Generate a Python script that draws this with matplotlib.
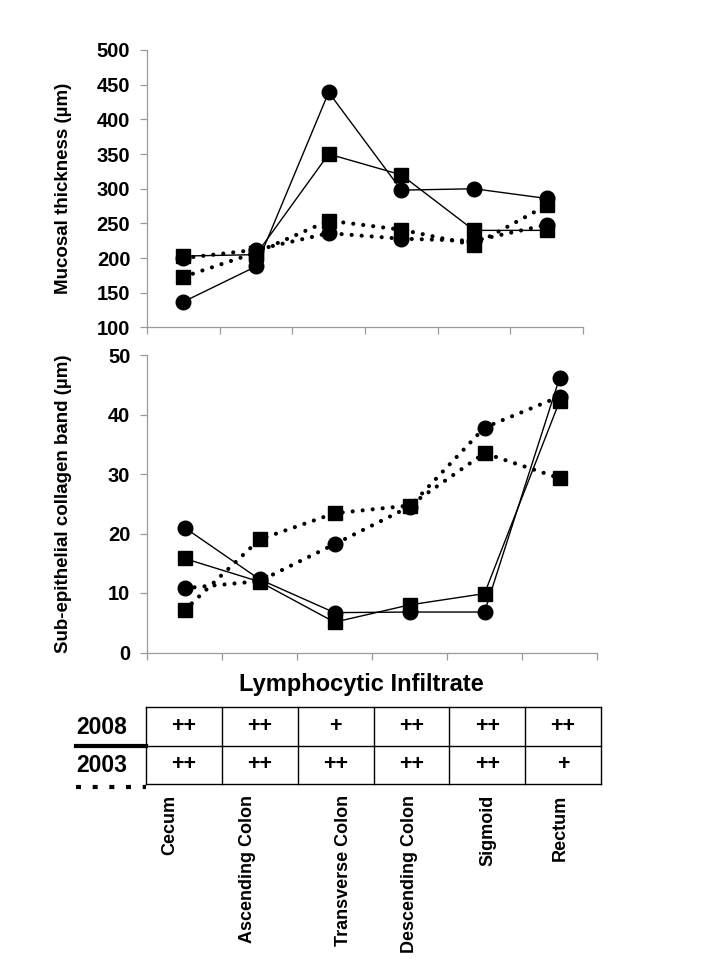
import matplotlib
matplotlib.use("Agg")
import matplotlib.pyplot as plt
from matplotlib.lines import Line2D

plt.rcParams['font.family'] = ['Liberation Sans', 'DejaVu Sans']
plt.rcParams['font.weight'] = 'bold'

# data
segments = ['Cecum', 'Ascending Colon', 'Transverse Colon', 'Descending Colon', 'Sigmoid', 'Rectum']

mucosal_2008_circle = [137, 188, 439, 298, 300, 286]
mucosal_2008_square = [203, 205, 350, 320, 240, 240]
mucosal_2003_circle = [200, 212, 236, 228, 225, 248]
mucosal_2003_square = [173, 208, 254, 241, 219, 276]

collagen_2008_circle = [21.0, 12.3, 6.7, 6.8, 6.8, 46.1]
collagen_2008_square = [15.8, 11.9, 5.1, 8.0, 9.9, 42.2]
collagen_2003_circle = [10.8, 12.0, 18.2, 24.5, 37.8, 43.0]
collagen_2003_square = [7.1, 19.0, 23.4, 24.7, 33.5, 29.3]

infiltrate_2008 = ['++', '++', '+', '++', '++', '++']
infiltrate_2003 = ['++', '++', '++', '++', '++', '+']
years = ['2008', '2003']

W, H = 720, 960
fig = plt.figure(figsize=(7.2, 9.6), dpi=100)


def fx(px):
    return px / W


def fy(py):
    return 1 - py / H


solid = dict(color='black', linewidth=1.0, linestyle='-')
dotted = dict(color='black', linewidth=3.0, linestyle=(0, (0.01, 2.4)), dash_capstyle='round')
msize = 10.5


def draw_panel(ax, series, ylim, yticks, ylabel):
    x = list(range(len(segments)))
    for vals, marker, style in series:
        ax.plot(x, vals, marker=marker, markersize=msize, markerfacecolor='black',
                markeredgecolor='black', clip_on=False, zorder=3, **style)
    ax.set_xlim(-0.5, len(segments) - 0.5)
    ax.set_ylim(*ylim)
    ax.set_yticks(yticks)
    ax.set_xticks([i - 0.5 for i in range(len(segments) + 1)])
    ax.set_xticklabels([])
    for s in ['top', 'right']:
        ax.spines[s].set_visible(False)
    for s in ['left', 'bottom']:
        ax.spines[s].set_color('#9a9a9a')
        ax.spines[s].set_linewidth(0.9)
    ax.tick_params(axis='both', direction='out', length=5, color='#9a9a9a', width=0.9)
    ax.tick_params(axis='y', labelsize=14.5, pad=7)
    for t in ax.get_yticklabels():
        t.set_fontweight('bold')
    ax.set_ylabel(ylabel, fontsize=13.5, fontweight='bold')


ax1 = fig.add_axes([fx(147), fy(327.5), fx(583 - 147), (327.5 - 50) / H])
draw_panel(ax1, [
    (mucosal_2008_circle, 'o', solid),
    (mucosal_2008_square, 's', solid),
    (mucosal_2003_circle, 'o', dotted),
    (mucosal_2003_square, 's', dotted),
], (100, 500), range(100, 501, 50), 'Mucosal thickness (µm)')

ax2 = fig.add_axes([fx(147), fy(652.5), fx(597 - 147), (652.5 - 355) / H])
draw_panel(ax2, [
    (collagen_2008_circle, 'o', solid),
    (collagen_2008_square, 's', solid),
    (collagen_2003_circle, 'o', dotted),
    (collagen_2003_square, 's', dotted),
], (0, 50), range(0, 51, 10), 'Sub-epithelial collagen band (µm)')

# align the two y labels
ax1.yaxis.set_label_coords(-0.172, 0.5)
ax2.yaxis.set_label_coords(-0.167, 0.5)

# lymphocytic infiltrate table
fig.text(fx(361), fy(685), 'Lymphocytic Infiltrate', ha='center', va='center',
         fontsize=17, fontweight='bold')

tab = fig.add_axes([fx(146), fy(784), fx(601 - 146), (784 - 707) / H])
tab.set_xlim(0, len(segments))
tab.set_ylim(0, 2)
tab.axis('off')
for i in range(len(segments) + 1):
    tab.plot([i, i], [0, 2], color='black', linewidth=1.0, clip_on=False)
for j in range(3):
    tab.plot([0, len(segments)], [j, j], color='black', linewidth=1.0, clip_on=False)
for row, vals in enumerate([infiltrate_2008, infiltrate_2003]):
    for i, v in enumerate(vals):
        tab.text(i + 0.5, 1.5 - row, v, ha='center', va='center', fontsize=15.5, fontweight='bold')

for row, yr in enumerate(years):
    fig.text(fx(76), fy(727 + row * 38), yr, ha='left', va='center', fontsize=16.5, fontweight='bold')

fig.add_artist(Line2D([fx(76), fx(146)], [fy(746), fy(746)], color='black', linewidth=3.0))
fig.add_artist(Line2D([fx(76), fx(146)], [fy(787), fy(787)], color='black', linewidth=3.0,
                      linestyle=(0, (1.2, 2.8)), dash_capstyle='butt'))

# rotated segment labels under the table
label_x = [170, 248, 343, 410, 488, 560]
for name, px in zip(segments, label_x):
    fig.text(fx(px), fy(795), name, rotation=90, ha='center', va='top',
             fontsize=13, fontweight='bold')

fig.savefig('out.png', dpi=100)
